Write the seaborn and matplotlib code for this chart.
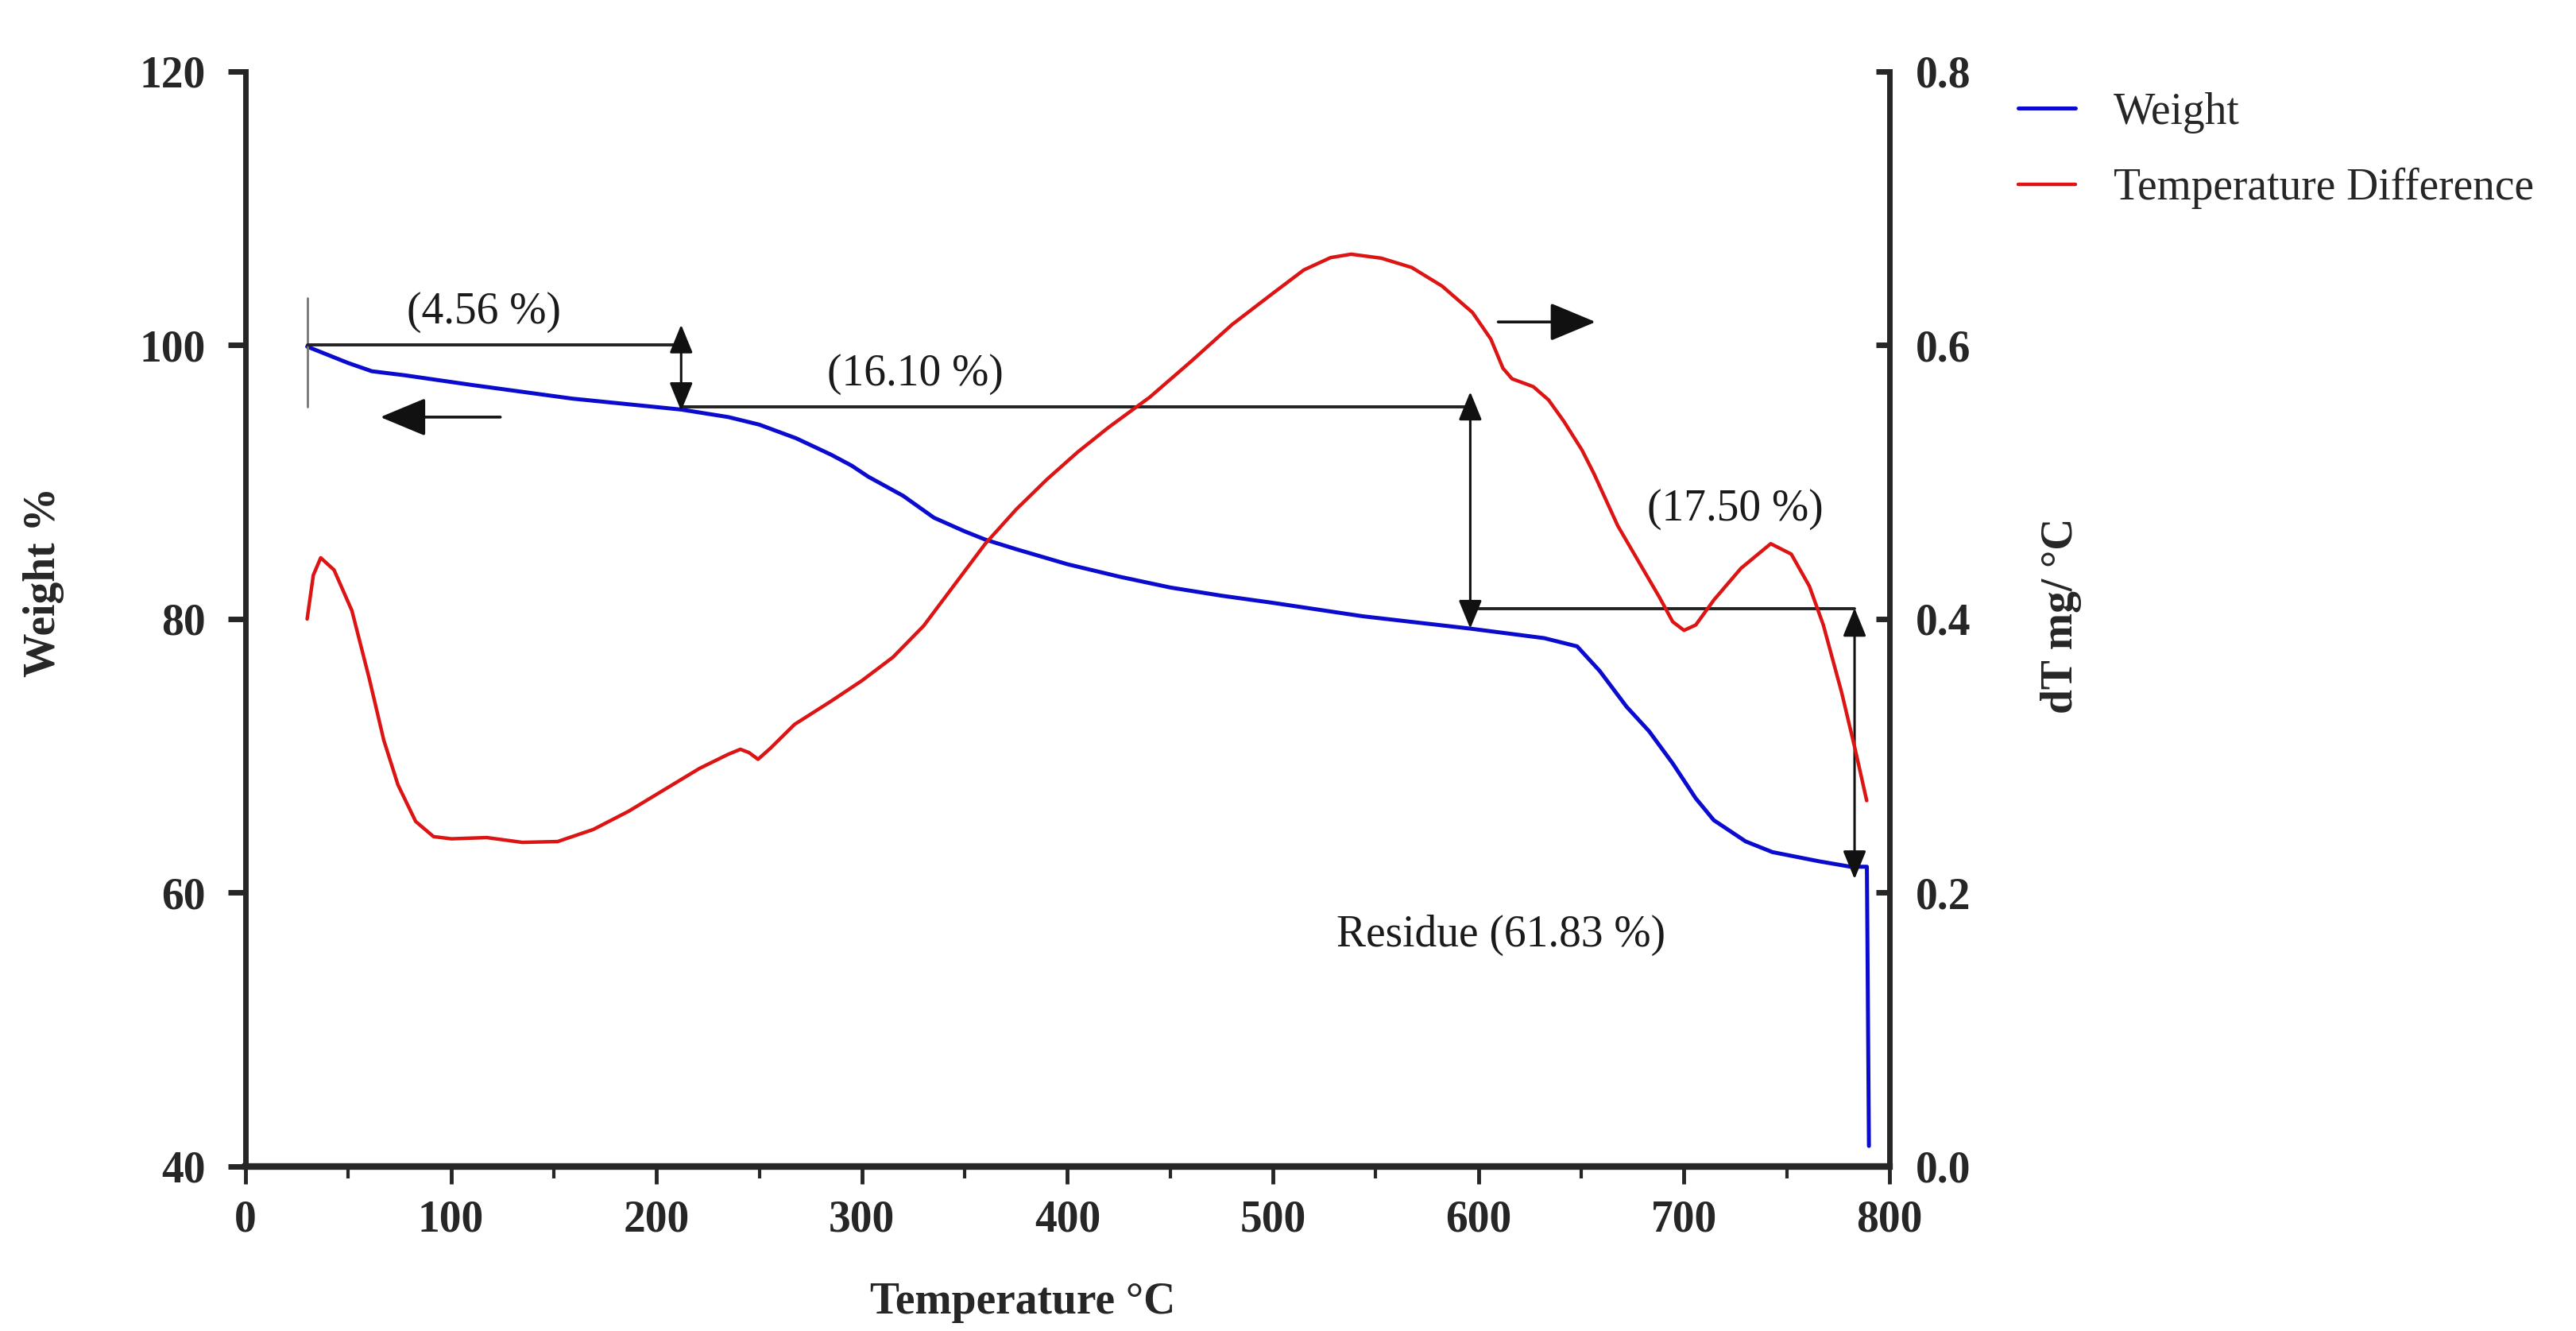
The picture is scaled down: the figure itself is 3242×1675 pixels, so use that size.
import numpy as np
import pandas as pd
import matplotlib
matplotlib.use('Agg')
import matplotlib.pyplot as plt
import seaborn as sns
from matplotlib.ticker import MultipleLocator, FormatStrFormatter

# weight curve (left axis, %)
weight_temp = [30, 40, 50, 61.5, 77.7, 110, 159, 212, 235, 250, 268, 285, 295, 303,
               320, 335, 350, 360, 375, 400, 425, 450, 475, 499, 543.6, 595.8, 632,
               648, 659, 672, 683, 694.5, 705.7, 714.5, 730, 743, 765.6, 781, 789, 790]
weight_pct = [99.9, 99.3, 98.7, 98.1, 97.8, 97.1, 96.1, 95.3, 94.75, 94.2, 93.2, 92.0, 91.2, 90.4,
              89.0, 87.4, 86.4, 85.8, 85.1, 84.0, 83.1, 82.3, 81.7, 81.2, 80.2, 79.3, 78.6,
              78.0, 76.2, 73.6, 71.8, 69.45, 66.9, 65.3, 63.75, 62.97, 62.3, 61.9, 61.9, 41.5]

# temperature difference curve (right axis, mg/°C)
dt_temp = [30, 33, 36.6, 43.1, 51.8, 60.3, 67.3, 74.2, 82.8, 91.5, 100.2, 117.4, 134.7, 151.9,
           169.2, 186.4, 203.7, 220.9, 234.7, 240.8, 245, 249.4, 255.4, 267.2, 285, 300, 315,
           330, 345, 360, 375, 390, 405, 420, 440, 460, 480, 500, 515, 528, 538, 552.7,
           567.5, 582.3, 597.1, 606, 611.9, 616.3, 626.7, 634.1, 641.5, 650.4, 656.3, 667.8,
           688, 694.5, 700, 705.7, 714.6, 727.7, 742.2, 752.2, 761, 767.8, 776.7, 783.3, 788.9]
dt_val = [0.400, 0.432, 0.4447, 0.4358, 0.406, 0.356, 0.3114, 0.2788, 0.2521, 0.241, 0.2394, 0.2403,
          0.2368, 0.2374, 0.2462, 0.2595, 0.2752, 0.2908, 0.301, 0.3048, 0.3024, 0.2975, 0.3055,
          0.323, 0.340, 0.355, 0.372, 0.395, 0.425, 0.455, 0.480, 0.502, 0.522, 0.540, 0.562,
          0.588, 0.615, 0.638, 0.655, 0.664, 0.6665, 0.6636, 0.6568, 0.6432, 0.6239, 0.6045,
          0.5832, 0.5755, 0.5697, 0.56, 0.5445, 0.5233, 0.5058, 0.468, 0.416, 0.398, 0.3917,
          0.3956, 0.414, 0.437, 0.455, 0.4474, 0.424, 0.3956, 0.3464, 0.3048, 0.2673]

# step annotations (weight loss steps)
step_lines = [(30, 212, 100.0), (212, 596, 95.5), (596, 783, 80.75)]
step_arrows = [(212, 95.2, 101.5), (596, 79.3, 96.6), (783, 61.0, 80.8)]
step_labels = ['(4.56 %)', '(16.10 %)', '(17.50 %)', 'Residue (61.83 %)']
label_pos = [(116, 102.4), (326, 97.9), (725, 88.0), (611, 56.9)]

blue = '#0b0bcf'
red = '#dc1414'

sns.set_style('ticks')
plt.rcParams['font.family'] = ['Liberation Serif', 'DejaVu Serif']
plt.rcParams['font.size'] = 40

fig = plt.figure(figsize=(32.42, 16.75), dpi=100)
ax = fig.add_axes([0.0953, 0.1236, 0.6382, 0.8227])
ax2 = ax.twinx()

df_w = pd.DataFrame({'T': weight_temp, 'W': weight_pct})
df_d = pd.DataFrame({'T': dt_temp, 'D': dt_val})
sns.lineplot(data=df_w, x='T', y='W', ax=ax, color=blue, lw=3.6, sort=False, estimator=None)
sns.lineplot(data=df_d, x='T', y='D', ax=ax2, color=red, lw=3.2, sort=False, estimator=None)

# axes ranges
ax.set_xlim(0, 800)
ax.set_ylim(40, 120)
ax2.set_ylim(0, 0.8)
ax.xaxis.set_major_locator(MultipleLocator(100))
ax.xaxis.set_minor_locator(MultipleLocator(50))
ax.yaxis.set_major_locator(MultipleLocator(20))
ax2.yaxis.set_major_locator(MultipleLocator(0.2))
ax2.yaxis.set_major_formatter(FormatStrFormatter('%.1f'))

# spines
for a in (ax, ax2):
    a.spines['top'].set_visible(False)
ax.spines['right'].set_visible(False)
ax2.spines['left'].set_visible(False)
ax2.spines['bottom'].set_visible(False)
ax.spines['left'].set_linewidth(5)
ax.spines['bottom'].set_linewidth(6)
ax2.spines['right'].set_linewidth(5)

ax.tick_params(axis='y', direction='out', length=16, width=5, pad=20, labelsize=40)
ax.tick_params(axis='x', which='major', direction='out', length=16, width=3.5, pad=14, labelsize=40)
ax.tick_params(axis='x', which='minor', direction='out', length=11, width=3)
ax2.tick_params(axis='y', direction='in', length=12, width=5, pad=24, labelsize=40)
for lbl in ax.get_xticklabels() + ax.get_yticklabels() + ax2.get_yticklabels():
    lbl.set_fontweight('bold')

ax.set_xlabel('Temperature °C', fontweight='bold', fontsize=40)
ax.set_ylabel('Weight %', fontweight='bold', fontsize=40)
ax2.set_ylabel('dT mg/ °C', fontweight='bold', fontsize=40)
ax.xaxis.set_label_coords(0.473, -0.105)
ax.yaxis.set_label_coords(-0.110, 0.534)
ax2.yaxis.set_label_coords(1.092, 0.503)

# step lines and double arrows
ax.plot([30, 30], [95.5, 103.45], color='#777777', lw=2)
for x0, x1, y in step_lines:
    ax.plot([x0, x1], [y, y], color='#222222', lw=2.8)
for x, y0, y1 in step_arrows:
    ax.annotate('', xy=(x, y1), xytext=(x, y0),
                arrowprops=dict(arrowstyle='<|-|>,head_length=1.1,head_width=0.45',
                                mutation_scale=20, color='#111111', lw=2.2,
                                shrinkA=0, shrinkB=0))

# direction arrows
ax.annotate('', xy=(65.6, 94.75), xytext=(124, 94.75),
            arrowprops=dict(arrowstyle='-|>,head_length=1.8,head_width=0.75',
                            mutation_scale=20, color='#111111', lw=2.6, shrinkA=0, shrinkB=0))
ax.annotate('', xy=(657, 101.7), xytext=(609.6, 101.7),
            arrowprops=dict(arrowstyle='-|>,head_length=1.8,head_width=0.75',
                            mutation_scale=20, color='#111111', lw=2.6, shrinkA=0, shrinkB=0))

for txt, (x, y) in zip(step_labels, label_pos):
    ax.text(x, y, txt, ha='center', va='center', fontsize=40, color='#1a1a1a')

# legend outside on the right
handles = [ax.get_lines()[0], ax2.get_lines()[0]]
fig.legend(handles, ['Weight', 'Temperature Difference'], loc='upper left',
           bbox_to_anchor=(0.7835, 0.931), frameon=False, fontsize=40,
           handlelength=1.3, handletextpad=0.85, labelspacing=0.78,
           borderpad=0, borderaxespad=0)

fig.savefig('out.png', dpi=100)
